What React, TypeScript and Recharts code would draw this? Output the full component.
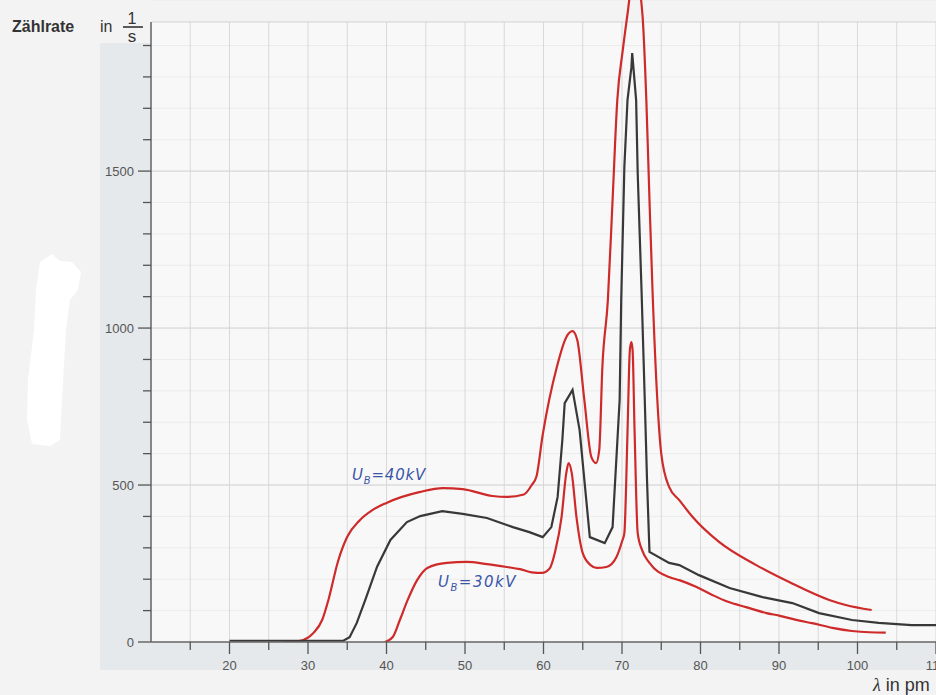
import React from 'react';
import { LineChart, Line, XAxis, YAxis, CartesianGrid, ReferenceLine } from 'recharts';

// ---- axis ticks ----
const lambdaTicks = [15, 20, 25, 30, 35, 40, 45, 50, 55, 60, 65, 70, 75, 80, 85, 90, 95, 100, 105, 110];
const countTicks = [0, 100, 200, 300, 400, 500, 600, 700, 800, 900, 1000, 1100, 1200, 1300, 1400, 1500, 1600, 1700, 1800, 1900];
const majorCountTicks = [500, 1000, 1500];
const frameTop = 1975;
const yMax = 2045;

// ---- black measured curve ----
const blackLambda = [20, 25, 30, 34.5, 35.3, 36.2, 37.3, 38.8, 40.5, 42.6, 44.3, 47.1, 49.7, 52.8, 56.1, 58.2, 59.9, 61.0, 61.8, 62.4, 62.7, 63.7, 64.6, 65.9, 67.8, 68.8, 69.7, 69.9, 70.3, 70.7, 71.2, 71.3, 71.8, 72.0, 72.5, 72.9, 73.2, 73.5, 76.0, 77.3, 79.8, 83.7, 87.9, 91.7, 95.1, 99.3, 102.7, 106.9, 110];
const blackCount = [4, 4, 4, 4, 15, 60, 134, 240, 325, 382, 401, 417, 408, 395, 366, 350, 334, 366, 462, 643, 761, 803, 675, 334, 315, 366, 771, 1089, 1513, 1726, 1831, 1876, 1726, 1494, 1111, 771, 506, 287, 252, 245, 213, 172, 143, 124, 92, 70, 61, 54, 54];

// ---- red curve U_B = 40 kV ----
const red40Lambda = [26.9, 28.5, 29.4, 30.7, 31.8, 32.6, 33.8, 35.0, 36.6, 38.2, 40.0, 44.3, 47.2, 49.7, 53.5, 55.3, 57.5, 58.5, 59.1, 59.9, 61.7, 62.9, 63.7, 64.3, 65.2, 66.1, 66.7, 67.1, 67.5, 68.2, 68.8, 69.4, 70.1, 70.7, 71.6, 72.6, 73.1, 73.5, 73.9, 74.5, 75.0, 76.0, 77.3, 79.0, 82.4, 87.1, 91.3, 96.4, 98.5, 101.8];
const red40Count = [0, 2, 6, 29, 70, 134, 255, 335, 388, 420, 443, 478, 490, 487, 465, 462, 470, 500, 527, 660, 876, 971, 990, 962, 771, 589, 570, 611, 876, 1089, 1408, 1726, 1885, 2000, 2150, 2000, 1726, 1408, 1111, 771, 600, 494, 452, 398, 318, 245, 191, 134, 118, 102];

// ---- red curve U_B = 30 kV ----
const red30Lambda = [39.8, 40.8, 41.7, 42.7, 43.9, 45.2, 47.7, 50.2, 52.8, 55.3, 57.0, 58.5, 59.8, 60.8, 61.5, 62.3, 62.9, 63.2, 63.6, 64.2, 65.0, 66.0, 66.8, 68.0, 69.3, 70.0, 70.3, 70.7, 71.0, 71.2, 71.35, 71.6, 72.0, 72.6, 73.5, 76.0, 77.3, 79.5, 81.5, 83.5, 85.8, 88.4, 90.0, 92.6, 94.2, 96.8, 99.3, 101.5, 103.6];
const red30Count = [0, 16, 70, 134, 197, 236, 252, 255, 248, 239, 232, 222, 220, 235, 290, 398, 538, 570, 538, 398, 283, 245, 236, 239, 271, 320, 347, 666, 930, 955, 930, 675, 347, 290, 252, 207, 197, 175, 150, 128, 111, 92, 84, 68, 60, 45, 35, 31, 30];

const zip = (xs: number[], ys: number[]) => xs.map((x, i) => ({ x, y: ys[i] }));
const blackData = zip(blackLambda, blackCount);
const red40Data = zip(red40Lambda, red40Count);
const red30Data = zip(red30Lambda, red30Count);

const tickFont = "'Liberation Sans Narrow', 'Liberation Sans', Arial, sans-serif";

const YTick = (props: any) => {
  const { x, y, payload } = props;
  const v = payload.value;
  const major = v % 500 === 0;
  const len = major ? 13 : 8;
  return (
    <g>
      <line x1={x - len} x2={x} y1={y} y2={y} stroke="#555" strokeWidth={1.3} />
      {major && (
        <text x={x - 17} y={y} dy="0.36em" textAnchor="end" fontSize={13} fontFamily={tickFont} fill="#555">
          {v}
        </text>
      )}
    </g>
  );
};

const XTick = (props: any) => {
  const { x, y, payload } = props;
  const v = payload.value;
  const major = v % 10 === 0;
  const len = major ? 12 : 8;
  return (
    <g>
      <line x1={x} x2={x} y1={y} y2={y + len} stroke="#555" strokeWidth={1.3} />
      {major && (
        <text x={x} y={y + 28} textAnchor="middle" fontSize={13} fontFamily={tickFont} fill="#555">
          {v}
        </text>
      )}
    </g>
  );
};

const majorGen = (p: any) => {
  const s = p && p.yAxis && p.yAxis.scale;
  if (!s) return [];
  const f = typeof s === 'function' ? (v: number) => s(v) : (v: number) => s.map(v);
  return [...majorCountTicks, frameTop].map((v) => f(v));
};

export default function App() {
  return (
    <div style={{ position: 'absolute', left: 0, top: 0, width: 936, height: 695, background: '#f3f3f3', overflow: 'hidden' }}>
      <div style={{ position: 'absolute', left: 100, top: 43, width: 52, height: 627, background: '#e5e9eb' }} />
      <div style={{ position: 'absolute', left: 100, top: 642, width: 836, height: 28, background: '#e5e9eb' }} />
      <svg width={936} height={695} style={{ position: 'absolute', left: 0, top: 0 }}>
        <path d="M40,262 L52,254 L60,261 L72,262 L81,272 L78,290 L70,300 L66,330 L62,400 L60,440 L50,446 L32,444 L27,420 L28,380 L34,330 L36,290 Z" fill="#ffffff" />
      </svg>
      <div style={{ position: 'absolute', left: 0, top: 0 }}>
        <LineChart width={936} height={695} margin={{ top: 0, right: 0, bottom: 0, left: 0 }}>
          <CartesianGrid y={22} height={620} vertical={false} stroke="#ececec" fill="#f8f8f8" />
          <CartesianGrid y={22} height={620} horizontal={false} stroke="#d9d9d9" />
          <CartesianGrid y={22} height={620} vertical={false} stroke="#d4d4d4" horizontalCoordinatesGenerator={majorGen} />
          <XAxis
            type="number"
            dataKey="x"
            domain={[10, 110]}
            ticks={lambdaTicks}
            interval={0}
            tickSize={0}
            tickMargin={0}
            tickLine={false}
            tick={<XTick />}
            axisLine={{ stroke: '#666', strokeWidth: 1.5 }}
            height={53}
            allowDataOverflow
          />
          <YAxis
            type="number"
            domain={[0, yMax]}
            ticks={countTicks}
            interval={0}
            tickSize={0}
            tickMargin={0}
            tickLine={false}
            tick={<YTick />}
            axisLine={false}
            width={151}
            allowDataOverflow
          />
          <ReferenceLine segment={[{ x: 10, y: 0 }, { x: 10, y: frameTop }]} stroke="#666" strokeWidth={1.5} />
          <Line data={red40Data} dataKey="y" type="monotone" stroke="#cf2a2a" strokeWidth={2.2} dot={false} isAnimationActive={false} />
          <Line data={red30Data} dataKey="y" type="monotone" stroke="#cf2a2a" strokeWidth={2.2} dot={false} isAnimationActive={false} />
          <Line data={blackData} dataKey="y" type="linear" stroke="#383838" strokeWidth={2.2} dot={false} isAnimationActive={false} />
        </LineChart>
      </div>
      <svg width={936} height={695} style={{ position: 'absolute', left: 0, top: 0, pointerEvents: 'none' }}>
        <text x={12} y={32} fontSize={16} fontWeight="bold" fontFamily="'Liberation Sans', Arial, sans-serif" fill="#333">Zählrate</text>
        <text x={100} y={32} fontSize={16} fontFamily="'Liberation Sans', Arial, sans-serif" fill="#333">in</text>
        <text x={132} y={24} fontSize={16} textAnchor="middle" fontFamily="'Liberation Sans', Arial, sans-serif" fill="#333">1</text>
        <line x1={123} x2={143} y1={27} y2={27} stroke="#333" strokeWidth={1.6} />
        <text x={132} y={42} fontSize={17} textAnchor="middle" fontFamily="'Liberation Sans', Arial, sans-serif" fill="#333">s</text>
        <text x={873} y={691} fontSize={18} fontFamily="'Liberation Sans', Arial, sans-serif" fill="#333">
          <tspan fontStyle="italic" fontFamily="'Liberation Serif', serif">λ</tspan> in pm
        </text>
        <text x={352} y={480} fontSize={15} fontStyle="italic" fontFamily="'DejaVu Sans', sans-serif" fill="#3a55a8" letterSpacing={0.8}>
          U<tspan fontSize={10} dy={4}>B</tspan><tspan dy={-4}>=40kV</tspan>
        </text>
        <text x={438} y={587} fontSize={15} fontStyle="italic" fontFamily="'DejaVu Sans', sans-serif" fill="#3a55a8" letterSpacing={1.5}>
          U<tspan fontSize={10} dy={4}>B</tspan><tspan dy={-4}>=30kV</tspan>
        </text>
      </svg>
    </div>
  );
}
